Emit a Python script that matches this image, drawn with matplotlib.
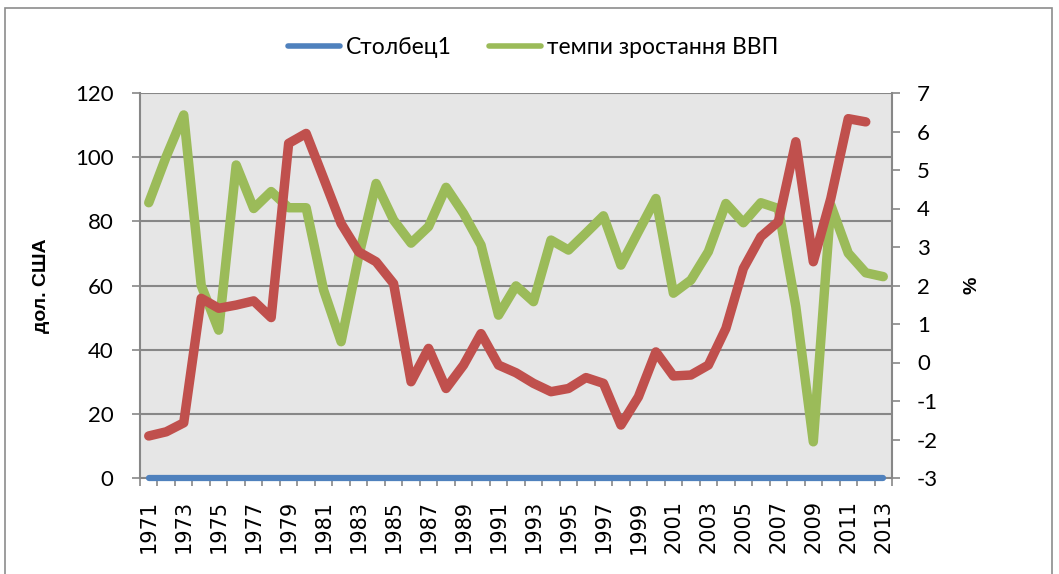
import matplotlib
matplotlib.use("Agg")
import matplotlib.pyplot as plt
from matplotlib.patches import Rectangle
import numpy as np

years = list(range(1971, 2014))
oil_price = [13.1, 14.4, 17.2, 56.0, 52.9, 53.9, 55.2, 50.0, 104.3, 107.4,
             93.4, 79.3, 70.5, 67.4, 60.6, 30.0, 40.4, 27.9, 35.2, 45.0,
             35.2, 32.8, 29.5, 26.9, 27.9, 31.3, 29.5, 16.5, 25.3, 39.3,
             31.8, 32.1, 35.2, 46.6, 65.3, 75.2, 79.9, 104.8, 67.4, 87.1,
             112.0, 111.0]
gdp_growth = [4.15, 5.35, 6.43, 2.0, 0.84, 5.13, 4.0, 4.44, 4.02, 4.02,
              1.88, 0.54, 2.75, 4.65, 3.70, 3.10, 3.53, 4.55, 3.87, 3.05,
              1.23, 1.99, 1.58, 3.18, 2.92, 3.36, 3.81, 2.53, 3.40, 4.26,
              1.80, 2.14, 2.88, 4.13, 3.63, 4.15, 4.0, 1.45, -2.06, 4.09,
              2.84, 2.33, 2.23]
stolbets = [0] * len(years)

left_ticks = [0, 20, 40, 60, 80, 100, 120]
right_ticks = [-3, -2, -1, 0, 1, 2, 3, 4, 5, 6, 7]
label_legend = ["Столбец1", "темпи зростання ВВП"]

W, H = 1059, 574
fig = plt.figure(figsize=(W / 100, H / 100), dpi=100)
fig.patch.set_facecolor("white")
fig.patches.append(Rectangle((5 / W, -0.05), (1052 - 5) / W, 1.05 - 8 / H,
                             transform=fig.transFigure, fill=False,
                             edgecolor="#8C8C8C", linewidth=1.2))

L, R, T, B = 140, 892, 93, 478
ax = fig.add_axes([L / W, 1 - B / H, (R - L) / W, (B - T) / H])
ax.set_facecolor("#E6E6E6")
x = np.arange(len(years))
x_red = np.arange(len(oil_price))

grid_c = "#878787"
font = "Lato"
tick_fs = 16

ax.set_xlim(-0.5, len(years) - 0.5)
ax.set_ylim(0, 120)
ax.set_yticks(left_ticks)
ax.set_yticklabels([str(v) for v in left_ticks], fontsize=tick_fs, family=font)
for v in left_ticks[1:]:
    ax.axhline(v, color=grid_c, lw=1.5, zorder=0)

l_blue, = ax.plot(x, stolbets, color="#4F81BD", lw=4.5, solid_capstyle="round",
                  zorder=3, clip_on=False)

ax.set_xticks(np.arange(-0.5, len(years), 1.0))
ax.set_xticklabels([])
ax.set_xticks(x[::2], minor=True)
ax.set_xticklabels([str(y) for y in years[::2]], minor=True, rotation=90,
                   fontsize=15, family="DejaVu Sans")
ax.tick_params(axis="x", which="major", length=6, color=grid_c, width=1.2,
               direction="out")
ax.tick_params(axis="x", which="minor", length=0, pad=16)
ax.tick_params(axis="y", length=6, color=grid_c, width=1.2, direction="out", pad=13)
for s in ["top", "right"]:
    ax.spines[s].set_visible(False)
for s in ["left", "bottom"]:
    ax.spines[s].set_color(grid_c)
    ax.spines[s].set_linewidth(1.5)

ax2 = ax.twinx()
ax2.set_ylim(-3, 7)
ax2.set_yticks(right_ticks)
ax2.set_yticklabels([str(v) for v in right_ticks], fontsize=tick_fs, family=font)
ax2.tick_params(axis="y", length=6, color=grid_c, width=1.2, direction="out", pad=12)
for s in ["top", "left", "bottom"]:
    ax2.spines[s].set_visible(False)
ax2.spines["right"].set_color(grid_c)
ax2.spines["right"].set_linewidth(1.5)
l_green, = ax2.plot(x, gdp_growth, color="#9BBB59", lw=6.8,
                    solid_joinstyle="round", solid_capstyle="round", zorder=3)

ax3 = ax.twinx()
ax3.set_ylim(0, 120)
ax3.set_yticks([])
for s in ax3.spines.values():
    s.set_visible(False)
ax3.plot(x_red, oil_price, color="#C0504D", lw=6.8, solid_joinstyle="round",
         solid_capstyle="round", zorder=3)

fig.text(41 / W, 1 - 286 / H, "дол. США", rotation=90, ha="center", va="center",
         fontsize=14, fontweight="bold", family="Liberation Sans")
fig.text(972 / W, 1 - 285 / H, "%", rotation=90, ha="center", va="center",
         fontsize=14, fontweight="bold", family="Liberation Sans")

fig.legend([l_blue, l_green], label_legend, loc="center",
           bbox_to_anchor=(533 / W, 1 - 48 / H), ncol=2, frameon=False,
           prop={"family": font, "size": 16.5}, handlelength=2.3,
           columnspacing=1.6, handletextpad=0.25)
for h in fig.legends[0].legend_handles:
    h.set_linewidth(4)
    h.set_solid_capstyle("round")

fig.savefig("out.png", dpi=100)
